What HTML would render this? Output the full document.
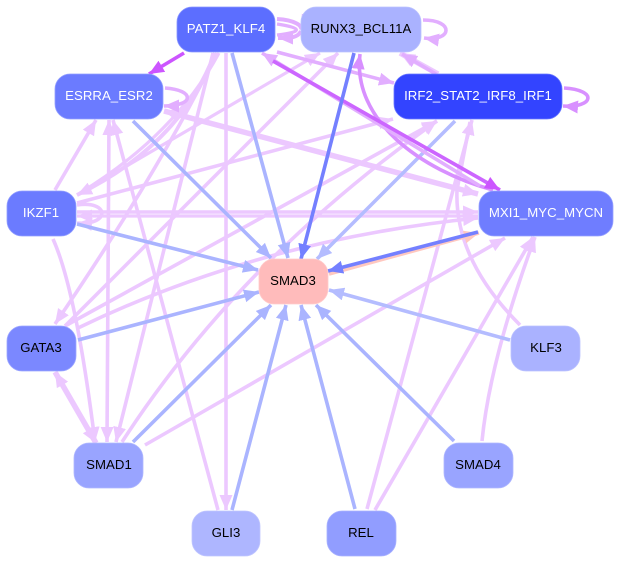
<!DOCTYPE html>
<html><head><meta charset="utf-8"><style>
html,body{margin:0;padding:0;background:#fff}
svg{display:block}
text{font-family:"Liberation Sans",sans-serif;font-size:13.2px;text-anchor:middle;letter-spacing:.05px}
.e{fill:none;stroke-width:3.6}
.p{stroke:#ecc8ff}.m{stroke:#e2aeff}.b{stroke:#aab4ff}.d{stroke:#7480ff}.g{stroke:#cc55ff}.l{stroke:#b4bcff}.v{stroke:#d890ff}
.n{stroke-width:.8}
</style></head><body>
<svg width="620" height="563" viewBox="0 0 620 563" xmlns="http://www.w3.org/2000/svg">
<defs>
<marker id="ap" markerUnits="userSpaceOnUse" markerWidth="16" markerHeight="14" refX="15" refY="6.5" orient="auto-start-reverse"><path d="M0,0L15,6.5L0,13z" fill="#ecc8ff"/></marker>
<marker id="am" markerUnits="userSpaceOnUse" markerWidth="16" markerHeight="14" refX="15" refY="6.5" orient="auto-start-reverse"><path d="M0,0L15,6.5L0,13z" fill="#e2aeff"/></marker>
<marker id="ab" markerUnits="userSpaceOnUse" markerWidth="16" markerHeight="14" refX="15" refY="6.5" orient="auto-start-reverse"><path d="M0,0L15,6.5L0,13z" fill="#aab4ff"/></marker>
<marker id="ad" markerUnits="userSpaceOnUse" markerWidth="16" markerHeight="14" refX="15" refY="6.5" orient="auto-start-reverse"><path d="M0,0L15,6.5L0,13z" fill="#7480ff"/></marker>
<marker id="ag" markerUnits="userSpaceOnUse" markerWidth="16" markerHeight="14" refX="15" refY="6.5" orient="auto-start-reverse"><path d="M0,0L15,6.5L0,13z" fill="#cc55ff"/></marker>
<marker id="av" markerUnits="userSpaceOnUse" markerWidth="16" markerHeight="14" refX="15" refY="6.5" orient="auto-start-reverse"><path d="M0,0L15,6.5L0,13z" fill="#d890ff"/></marker>
<marker id="al" markerUnits="userSpaceOnUse" markerWidth="16" markerHeight="14" refX="15" refY="6.5" orient="auto-start-reverse"><path d="M0,0L15,6.5L0,13z" fill="#b4bcff"/></marker>
<marker id="ar" markerUnits="userSpaceOnUse" markerWidth="16" markerHeight="14" refX="15" refY="6.5" orient="auto-start-reverse"><path d="M0,0L15,6.5L0,13z" fill="#ffc8c0"/></marker>
</defs>

<!-- light purple edges -->
<g class="e p">
<path d="M53,239Q76,290 95,442" marker-end="url(#ap)"/>
<path d="M55,190L96,120" marker-end="url(#ap)"/>
<path d="M109,120L107,442" marker-start="url(#ap)" marker-end="url(#ap)"/>
<path d="M218,510L113,120" marker-end="url(#ap)"/>
<path d="M226,53L226,510" marker-end="url(#ap)"/>
<path d="M213,53L116,442" marker-end="url(#ap)"/>
<path d="M217,53Q160,170 55,324" marker-end="url(#ap)"/>
<path d="M65,326L338,53" marker-end="url(#ap)"/>
<path d="M77,195L320,53" marker-end="url(#ap)" stroke-width="3.2"/>
<path d="M77,203L393,119" marker-end="url(#ap)"/>
<path d="M65,326L437,121" marker-end="url(#ap)"/>
<path d="M122,442Q240,260 437,121" marker-end="url(#ap)"/>
<path d="M367,509L472,120" marker-end="url(#ap)"/>
<path d="M520,325C480,285 455,240 457,190L470,122"/>
<path d="M375,510L533,237" marker-end="url(#ap)"/>
<path d="M482,441Q490,360 535,237" marker-end="url(#ap)"/>
<path d="M145,445L505,238" marker-end="url(#ap)"/>
<path d="M78,328Q260,240 478,218" marker-end="url(#ap)"/>
<path d="M77,212L478,212" marker-end="url(#ap)" stroke-width="3.6"/>
<path d="M478,216L77,216" marker-end="url(#ap)" stroke-width="3.2"/>
<path d="M55,372L96,443" marker-start="url(#ap)" marker-end="url(#ap)" stroke-width="5.5"/>
<path d="M77,195Q180,145 215,53" marker-start="url(#ap)" stroke-width="4"/>
<path d="M80,193Q175,135 219,53" stroke-width="3.2"/>
<path d="M164,111L478,194" marker-start="url(#ap)" marker-end="url(#ap)" stroke-width="5.5"/>
<path d="M400,53L438,74" marker-start="url(#ap)" stroke-width="5.5"/>
<path d="M77,205C110,200 110,226 77,223" marker-end="url(#ap)"/>
</g>

<!-- medium purple edges -->
<g class="e m">
<path d="M165,88C195,90 195,106 164,106" marker-end="url(#am)"/>
<path d="M277,19C295,20 303,26 301,30" marker-end="url(#am)" stroke-width="4"/>
<path d="M301,31C298,38 290,38 278,38" marker-end="url(#am)" stroke-width="4"/>
<path d="M277,24C303,28 303,32 277,35" stroke-width="3.2"/>
<path d="M423,20C455,20 452,42 424,38" marker-end="url(#am)"/>
<path d="M277,52L394,83" marker-end="url(#am)"/>
<path d="M436,74L402,54" marker-end="url(#am)"/>
</g>

<!-- blue edges -->
<g class="e b">
<path d="M232,53L288,258" marker-end="url(#ab)"/>
<path d="M133,121L271,258" marker-end="url(#ab)"/>
<path d="M77,224L258,270" marker-end="url(#ab)"/>
<path d="M78,340L259,292" marker-end="url(#ab)"/>
<path d="M133,442L271,305" marker-end="url(#ab)"/>
<path d="M232,510L286,305" marker-end="url(#ab)"/>
<path d="M355,509L301,305" marker-end="url(#ab)"/>
<path d="M454,441L316,305" marker-end="url(#ab)"/>
<path d="M510,340L329,290" marker-end="url(#al)" style="stroke:#b4bcff"/>
<path d="M455,121L317,259" marker-end="url(#al)" style="stroke:#b4bcff"/>
</g>

<!-- magenta edges -->
<path class="e v" d="M493,190C420,170 352,120 360,54" marker-end="url(#av)"/>
<path class="e m" d="M480,186L262,53" marker-end="url(#am)" stroke-width="4"/>
<path class="e g" d="M273,61L500,190" marker-end="url(#ag)" style="stroke:#cc66ff"/>
<path class="e g" d="M184,53L149,74" marker-end="url(#ag)" stroke-width="4"/>

<!-- SMAD3/MXI1 -->
<path class="e" style="stroke:#ffc8c0" d="M329,274L479,233" marker-end="url(#ar)"/>
<path class="e d" d="M478,232L328,271" marker-end="url(#ad)"/>
<path class="e d" d="M354,53L301,259" marker-end="url(#ad)"/>

<!-- IRF2 self loop -->
<path class="e" style="stroke:#d890ff" d="M564,88C598,90 594,108 563,106" marker-end="url(#av)"/>

<!-- nodes -->
<g class="n">
<rect x="177" y="7" width="98" height="45" rx="15" fill="#5c6eff" stroke="#8a96ff"/>
<rect x="301" y="7" width="120" height="45" rx="15" fill="#aab2ff" stroke="#bcc3ff"/>
<rect x="55" y="74" width="108" height="45" rx="15" fill="#6b7bff" stroke="#94a0ff"/>
<rect x="394" y="74" width="168" height="45" rx="15" fill="#3344ff" stroke="#6a78ff"/>
<rect x="7" y="191" width="69" height="45" rx="15" fill="#6b7bff" stroke="#94a0ff"/>
<rect x="479" y="191" width="134" height="45" rx="15" fill="#6f7dff" stroke="#98a3ff"/>
<rect x="259" y="259" width="69" height="45" rx="15" fill="#ffbbbb" stroke="#ffcccc"/>
<rect x="7" y="326" width="69" height="45" rx="15" fill="#7b88ff" stroke="#9ea8ff"/>
<rect x="511" y="326" width="69" height="45" rx="15" fill="#aab2ff" stroke="#bcc3ff"/>
<rect x="74" y="443" width="69" height="45" rx="15" fill="#99a4ff" stroke="#b0b8ff"/>
<rect x="444" y="443" width="69" height="45" rx="15" fill="#99a4ff" stroke="#b0b8ff"/>
<rect x="192" y="511" width="68" height="45" rx="15" fill="#aeb6ff" stroke="#c0c6ff"/>
<rect x="327" y="511" width="69" height="45" rx="15" fill="#919dff" stroke="#aab3ff"/>
</g>

<g fill="#fff">
<text x="226" y="33">PATZ1_KLF4</text>
<text x="109" y="100">ESRRA_ESR2</text>
<text x="478" y="100">IRF2_STAT2_IRF8_IRF1</text>
<text x="41" y="217">IKZF1</text>
<text x="546" y="217">MXI1_MYC_MYCN</text>
</g>
<g fill="#000">
<text x="361" y="33">RUNX3_BCL11A</text>
<text x="293" y="285">SMAD3</text>
<text x="41" y="352">GATA3</text>
<text x="546" y="352">KLF3</text>
<text x="109" y="469">SMAD1</text>
<text x="478" y="469">SMAD4</text>
<text x="226" y="537">GLI3</text>
<text x="361" y="537">REL</text>
</g>
</svg>
</body></html>
